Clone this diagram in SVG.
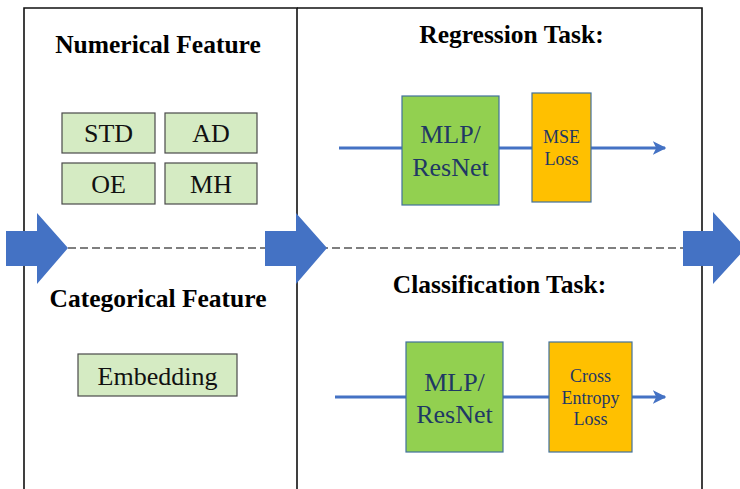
<svg xmlns="http://www.w3.org/2000/svg" width="740" height="489" viewBox="0 0 740 489">
  <style>
    .panel { fill: none; stroke: #111; stroke-width: 1.6; }
    .feat { fill: #D5EBC3; stroke: #4a4a4a; stroke-width: 1.2; }
    .model { fill: #92D050; stroke: #41719C; stroke-width: 1.2; }
    .loss { fill: #FFC000; stroke: #41719C; stroke-width: 1.2; }
    text { font-family: 'Liberation Serif', 'DejaVu Serif', serif; text-anchor: middle; }
    .title { font-weight: bold; font-size: 25.5px; fill: #000; }
    .label { font-size: 26px; fill: #111; }
    .mlabel { font-size: 26px; fill: #1F3864; }
    .small { font-size: 18px; fill: #1F3864; }
    .flow { stroke: #4472C4; stroke-width: 3.2; fill: none; marker-end: url(#head); }
    .big { fill: #4472C4; }
    .divider { stroke: #555; stroke-width: 1.5; stroke-dasharray: 8 4; fill: none; }
  </style>
  <defs>
    <marker id="head" viewBox="0 0 10 10" refX="9" refY="5" markerWidth="4.2" markerHeight="4.2" orient="auto" markerUnits="strokeWidth">
      <path d="M0,0 L10,5 L0,10 L2.5,5 Z" fill="#4472C4"/>
    </marker>
  </defs>

  <rect width="740" height="489" fill="#fff"/>

  <!-- panel frames -->
  <g id="panels">
    <path class="panel" d="M24,489 V8 H297 V489"/>
    <path class="panel" d="M297,8 H702 V489"/>
  </g>

  <!-- feature panel -->
  <g id="numerical">
    <text class="title" x="158" y="53">Numerical Feature</text>
  </g>
  <g id="std">
    <rect class="feat" x="62" y="113" width="93" height="40"/>
    <text class="label" x="108.5" y="142">STD</text>
  </g>
  <g id="ad">
    <rect class="feat" x="165" y="113" width="92" height="40"/>
    <text class="label" x="211" y="142">AD</text>
  </g>
  <g id="oe">
    <rect class="feat" x="62" y="163" width="93" height="41"/>
    <text class="label" x="108.5" y="193">OE</text>
  </g>
  <g id="mh">
    <rect class="feat" x="165" y="163" width="92" height="41"/>
    <text class="label" x="211" y="193">MH</text>
  </g>
  <g id="categorical">
    <text class="title" x="158" y="307">Categorical Feature</text>
  </g>
  <g id="embedding">
    <rect class="feat" x="78" y="354" width="159" height="42"/>
    <text class="label" x="157.5" y="385">Embedding</text>
  </g>

  <!-- task panel -->
  <g id="regression">
    <text class="title" x="511.5" y="43">Regression Task:</text>
  </g>
  <g id="classification">
    <text class="title" x="499.5" y="293">Classification Task:</text>
  </g>

  <g id="connectors">
    <line class="divider" x1="68" y1="248" x2="690" y2="248"/>
    <line class="flow" x1="339" y1="148" x2="665" y2="148"/>
    <line class="flow" x1="335" y1="397" x2="665" y2="397"/>
    <polygon class="big" points="6,231 37,231 37,213 68,248 37,284 37,266 6,266"/>
    <polygon class="big" points="265,231 296,231 296,213 327,248 296,284 296,266 265,266"/>
    <polygon class="big" points="683,231 713,231 713,212 746,248 713,284 713,266 683,266"/>
  </g>

  <g id="reg-model">
    <rect class="model" x="402" y="96" width="97" height="109"/>
    <text class="mlabel" x="450.5" y="143">MLP/</text>
    <text class="mlabel" x="450.5" y="176">ResNet</text>
  </g>
  <g id="reg-loss">
    <rect class="loss" x="532" y="93" width="59" height="109"/>
    <text class="small" x="561.5" y="143">MSE</text>
    <text class="small" x="561.5" y="165">Loss</text>
  </g>
  <g id="cls-model">
    <rect class="model" x="406" y="342" width="97" height="110"/>
    <text class="mlabel" x="454.5" y="391">MLP/</text>
    <text class="mlabel" x="454.5" y="423">ResNet</text>
  </g>
  <g id="cls-loss">
    <rect class="loss" x="549" y="342" width="83" height="110"/>
    <text class="small" x="590.5" y="382">Cross</text>
    <text class="small" x="590.5" y="404">Entropy</text>
    <text class="small" x="590.5" y="425">Loss</text>
  </g>
</svg>
